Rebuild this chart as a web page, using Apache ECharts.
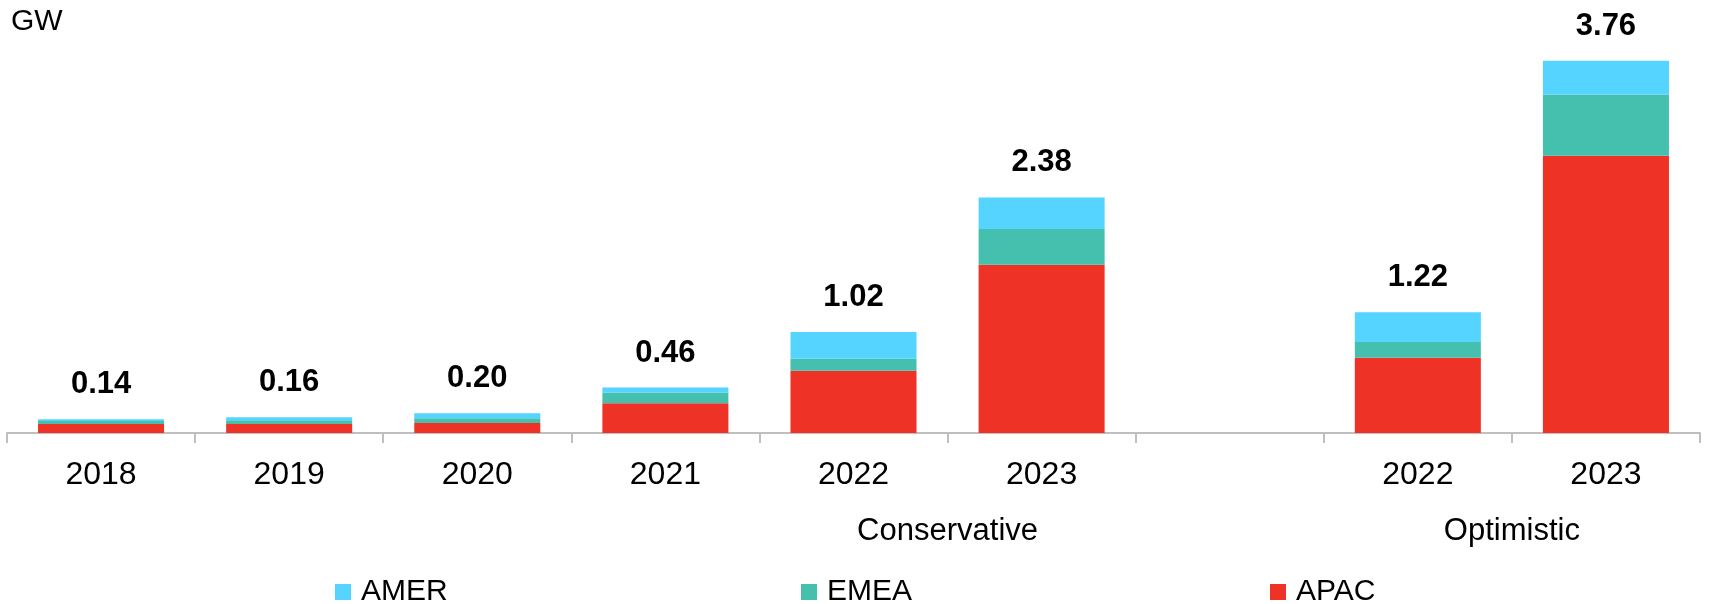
<!DOCTYPE html>
<html lang="en">
<head>
    <meta charset="UTF-8">
    <title>GW by region</title>
    <script src="https://cdn.jsdelivr.net/npm/echarts@6/dist/echarts.min.js"></script>
    <style>
        html, body { margin: 0; padding: 0; background: #fff; }
    </style>
</head>
<body>
    <div id="main" style="width: 1710px; height: 604px;"></div>
    <script>
        // categories (the empty one is the gap between the two scenarios)
        const years = ['2018', '2019', '2020', '2021', '2022', '2023', '', '2022', '2023'];
        const amer = [0.02, 0.03, 0.05, 0.05, 0.27, 0.32, null, 0.30, 0.34];
        const emea = [0.03, 0.04, 0.05, 0.11, 0.12, 0.36, null, 0.16, 0.62];
        const apac = [0.09, 0.09, 0.10, 0.30, 0.63, 1.70, null, 0.76, 2.80];
        const totals = [0.14, 0.16, 0.20, 0.46, 1.02, 2.38, null, 1.22, 3.76];
        // scenario labels sit on the boundary between the two years (in slot units)
        const scenarios = { 5: 'Conservative', 8: 'Optimistic' };

        const font = 'Liberation Sans, Arial, sans-serif';
        const colors = { AMER: '#55D4FF', EMEA: '#45BFAE', APAC: '#EF3226' };

        var myChart = echarts.init(document.getElementById('main'));

        function legendFor(name, left) {
            return {
                data: [name],
                left: left,
                top: 577,
                padding: 0,
                icon: 'rect',
                itemWidth: 16,
                itemHeight: 16,
                selectedMode: false,
                textStyle: { fontFamily: font, fontSize: 30, color: '#000', padding: [0, 0, 0, 5] }
            };
        }

        option = {
            animation: false,
            title: {
                text: 'GW',
                left: 11,
                top: 7,
                padding: 0,
                textStyle: { fontFamily: font, fontSize: 30, fontWeight: 'normal', color: '#000' }
            },
            legend: [
                legendFor('AMER', 335),
                legendFor('EMEA', 801),
                legendFor('APAC', 1270)
            ],
            grid: { left: 7, right: 10, top: 37, bottom: 171 },
            xAxis: [
                {
                    type: 'category',
                    data: years,
                    axisLine: { lineStyle: { color: '#bfbfbf', width: 2 } },
                    axisTick: { show: true, length: 10, lineStyle: { color: '#bfbfbf', width: 2 } },
                    axisLabel: { fontFamily: font, fontSize: 32, color: '#000', margin: 26, interval: 0 }
                },
                {
                    type: 'value',
                    position: 'bottom',
                    offset: 57,
                    min: 0,
                    max: years.length,
                    interval: 1,
                    axisLine: { show: false },
                    axisTick: { show: false },
                    splitLine: { show: false },
                    axisLabel: {
                        fontFamily: font, fontSize: 31, color: '#000', margin: 26,
                        showMinLabel: true, showMaxLabel: true,
                        formatter: function (v) { return scenarios[v] || ''; }
                    }
                }
            ],
            yAxis: { type: 'value', min: 0, max: 4, show: false, splitLine: { show: false } },
            series: [
                {
                    name: 'APAC', type: 'bar', stack: 'gw', data: apac, barWidth: '67%',
                    itemStyle: { color: colors.APAC }
                },
                {
                    name: 'EMEA', type: 'bar', stack: 'gw', data: emea, barWidth: '67%',
                    itemStyle: { color: colors.EMEA }
                },
                {
                    name: 'AMER', type: 'bar', stack: 'gw', data: amer, barWidth: '67%',
                    itemStyle: { color: colors.AMER },
                    label: {
                        show: true,
                        position: 'top',
                        distance: 19,
                        fontFamily: font,
                        fontSize: 31,
                        fontWeight: 'bold',
                        color: '#000',
                        formatter: function (p) {
                            const t = totals[p.dataIndex];
                            return t == null ? '' : t.toFixed(2);
                        }
                    }
                }
            ]
        };
        myChart.setOption(option);
    </script>
</body>
</html>
